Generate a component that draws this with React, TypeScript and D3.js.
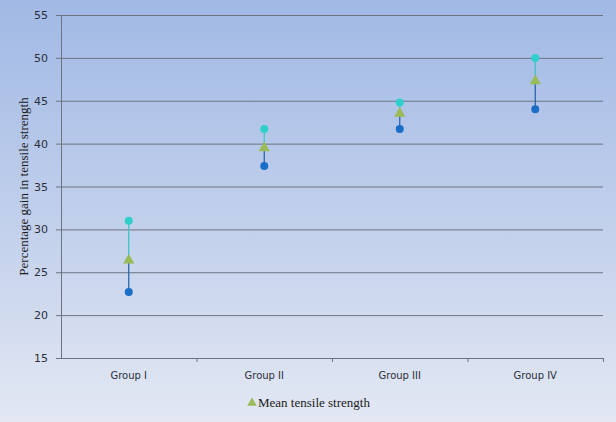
import { useEffect, useRef } from 'react'
import * as d3 from 'd3'

const groups = ['Group I', 'Group II', 'Group III', 'Group IV']
const highValues = [31.0, 41.7, 44.8, 50.0]
const meanValues = [26.4, 39.5, 43.5, 47.3]
const lowValues = [22.7, 37.4, 41.7, 44.0]
const yTicks = [15, 20, 25, 30, 35, 40, 45, 50, 55]

const W = 616
const H = 422

export default function App() {
  const svgRef = useRef<SVGSVGElement | null>(null)

  useEffect(() => {
    const svgEl = svgRef.current
    if (!svgEl) return
    const svg = d3.select(svgEl)
    svg.selectAll('*').remove()

    const left = 61
    const right = 603
    const top = 15
    const bottom = 358

    // background gradient
    const defs = svg.append('defs')
    const grad = defs
      .append('linearGradient')
      .attr('id', 'bg')
      .attr('x1', 0)
      .attr('y1', 0)
      .attr('x2', 0)
      .attr('y2', 1)
    grad.append('stop').attr('offset', '0%').attr('stop-color', '#a1b9e5')
    grad.append('stop').attr('offset', '55%').attr('stop-color', '#c3d1ec')
    grad.append('stop').attr('offset', '100%').attr('stop-color', '#e3e8f3')
    svg.append('rect').attr('width', W).attr('height', H).attr('fill', 'url(#bg)')

    const x = d3.scaleBand<string>().domain(groups).range([left, right])
    const y = d3.scaleLinear().domain([15, 55]).range([bottom, top])

    // gridlines
    svg
      .append('g')
      .selectAll('line')
      .data(yTicks)
      .enter()
      .append('line')
      .attr('x1', left - 5)
      .attr('x2', right)
      .attr('y1', (d) => y(d) + 0.5)
      .attr('y2', (d) => y(d) + 0.5)
      .attr('stroke', '#6d7382')
      .attr('stroke-width', 1)

    // y axis line
    svg
      .append('line')
      .attr('x1', left + 0.5)
      .attr('x2', left + 0.5)
      .attr('y1', top)
      .attr('y2', bottom)
      .attr('stroke', '#6d7382')

    // y tick labels
    svg
      .append('g')
      .selectAll('text')
      .data(yTicks)
      .enter()
      .append('text')
      .attr('x', 48)
      .attr('y', (d) => y(d) + 4)
      .attr('text-anchor', 'end')
      .attr('font-family', 'DejaVu Sans, sans-serif')
      .attr('font-size', 11)
      .attr('fill', '#2b2f3a')
      .text((d) => d)

    // x tick marks at category boundaries
    const boundaries = [...groups.map((g) => x(g) ?? 0), right]
    svg
      .append('g')
      .selectAll('line')
      .data(boundaries.slice(1))
      .enter()
      .append('line')
      .attr('x1', (d) => d + 0.5)
      .attr('x2', (d) => d + 0.5)
      .attr('y1', bottom)
      .attr('y2', bottom + 4)
      .attr('stroke', '#6d7382')

    // x labels
    svg
      .append('g')
      .selectAll('text')
      .data(groups)
      .enter()
      .append('text')
      .attr('x', (d) => (x(d) ?? 0) + x.bandwidth() / 2)
      .attr('y', 379)
      .attr('text-anchor', 'middle')
      .attr('font-family', 'DejaVu Sans, sans-serif')
      .attr('font-size', 10)
      .attr('fill', '#2b2f3a')
      .text((d) => d)

    // y axis title
    svg
      .append('text')
      .attr('transform', `translate(28, ${(top + bottom) / 2}) rotate(-90)`)
      .attr('text-anchor', 'middle')
      .attr('font-family', 'Liberation Serif, serif')
      .attr('font-size', 13)
      .attr('fill', '#1a1a1a')
      .text('Percentage gain in tensile strength')

    const cx = (i: number) => (x(groups[i]) ?? 0) + x.bandwidth() / 2

    const g = svg.append('g')
    groups.forEach((_, i) => {
      g.append('line')
        .attr('x1', cx(i))
        .attr('x2', cx(i))
        .attr('y1', y(highValues[i]))
        .attr('y2', y(meanValues[i]))
        .attr('stroke', '#35c4c4')
        .attr('stroke-width', 1.2)
      g.append('line')
        .attr('x1', cx(i))
        .attr('x2', cx(i))
        .attr('y1', y(meanValues[i]))
        .attr('y2', y(lowValues[i]))
        .attr('stroke', '#1f5fa8')
        .attr('stroke-width', 1.2)
    })

    g.selectAll('circle.high')
      .data(highValues)
      .enter()
      .append('circle')
      .attr('class', 'high')
      .attr('cx', (_, i) => cx(i))
      .attr('cy', (d) => y(d))
      .attr('r', 4)
      .attr('fill', '#2fd0cc')

    g.selectAll('circle.low')
      .data(lowValues)
      .enter()
      .append('circle')
      .attr('class', 'low')
      .attr('cx', (_, i) => cx(i))
      .attr('cy', (d) => y(d))
      .attr('r', 4)
      .attr('fill', '#1a6ec6')

    const tri = d3.symbol().type(d3.symbolTriangle).size(55)
    g.selectAll('path.mean')
      .data(meanValues)
      .enter()
      .append('path')
      .attr('class', 'mean')
      .attr('d', tri() ?? '')
      .attr('transform', (d, i) => `translate(${cx(i)}, ${y(d)})`)
      .attr('fill', '#9bbb59')

    // legend
    svg
      .append('path')
      .attr('d', d3.symbol().type(d3.symbolTriangle).size(40)() ?? '')
      .attr('transform', 'translate(252, 403)')
      .attr('fill', '#9bbb59')
    svg
      .append('text')
      .attr('x', 258)
      .attr('y', 407)
      .attr('font-family', 'Liberation Serif, serif')
      .attr('font-size', 13)
      .attr('fill', '#1a1a1a')
      .text('Mean tensile strength')
  }, [])

  return (
    <svg
      ref={svgRef}
      width={W}
      height={H}
      style={{ display: 'block', position: 'absolute', left: 0, top: 0 }}
    />
  )
}
